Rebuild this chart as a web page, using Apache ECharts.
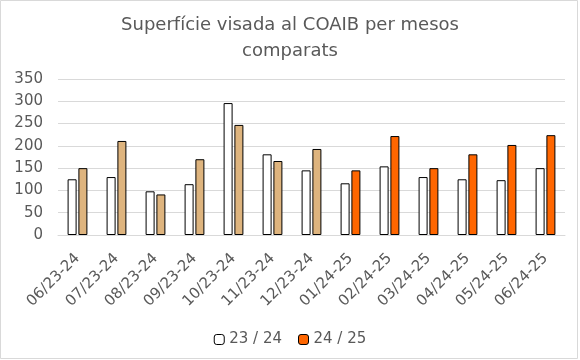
<!DOCTYPE html>
<html><head><meta charset="utf-8">
<script src="https://cdn.jsdelivr.net/npm/echarts@6/dist/echarts.min.js"></script>
<style>html,body{margin:0;padding:0;background:#fff}#c{width:580px;height:360px}</style>
</head><body><div id="c"></div>
<script>
const categories = ['06/23-24','07/23-24','08/23-24','09/23-24','10/23-24','11/23-24','12/23-24','01/24-25','02/24-25','03/24-25','04/24-25','05/24-25','06/24-25'];
const series2324 = [125,130,98,114,296,181,145,116,154,130,125,123,150];
const series2425 = [150,211,91,170,247,166,193,145,222,150,181,202,224];
const yTicks = [0,50,100,150,200,250,300,350];
const seriesNames = ['23 / 24','24 / 25'];
const tanColor = '#DEB47E', orangeColor = '#FF6600';
const tanCount = 7;

const chart = echarts.init(document.getElementById('c'), null, {renderer:'canvas'});
const font = '"DejaVu Sans"';
chart.setOption({
  animation:false,
  backgroundColor:'#fff',
  title:{text:'Superfície visada al COAIB per mesos\ncomparats', left:'center', top:7,
    textStyle:{fontFamily:font, fontSize:18, fontWeight:'normal', color:'#595959', lineHeight:26}},
  grid:{left:58, right:15, top:79, bottom:125},
  legend:{top:327, left:'center', itemWidth:10, itemHeight:10, itemGap:16,
    textStyle:{fontFamily:font, fontSize:15, color:'#595959'},
    data:[{name:seriesNames[0], itemStyle:{color:'#fff', borderColor:'#000', borderWidth:1}},
          {name:seriesNames[1], itemStyle:{color:orangeColor, borderColor:'#000', borderWidth:1}}]},
  xAxis:{type:'category', data:categories,
    axisLine:{lineStyle:{color:'#d9d9d9'}}, axisTick:{show:false},
    axisLabel:{rotate:45, interval:0, margin:21, fontFamily:font, fontSize:15, color:'#595959'}},
  yAxis:{type:'value', min:0, max:350, interval:50,
    axisLine:{show:false}, axisTick:{show:false},
    splitLine:{lineStyle:{color:'#d9d9d9'}},
    axisLabel:{fontFamily:font, fontSize:15, color:'#595959', margin:15}},
  series:[
    {name:seriesNames[0], type:'bar', data:series2324, barWidth:9, barGap:'20%',
     itemStyle:{color:'#fff', borderColor:'#000', borderWidth:1}},
    {name:seriesNames[1], type:'bar', data:series2425.map((v,i)=>({value:v, itemStyle:{color: i<tanCount?tanColor:orangeColor}})), barWidth:9,
     itemStyle:{color:orangeColor, borderColor:'#000', borderWidth:1}}
  ],
  graphic:[{type:'rect', shape:{x:0.5,y:0.5,width:577,height:358}, style:{fill:null, stroke:'#d9d9d9', lineWidth:1}, silent:true}]
});
</script></body></html>
